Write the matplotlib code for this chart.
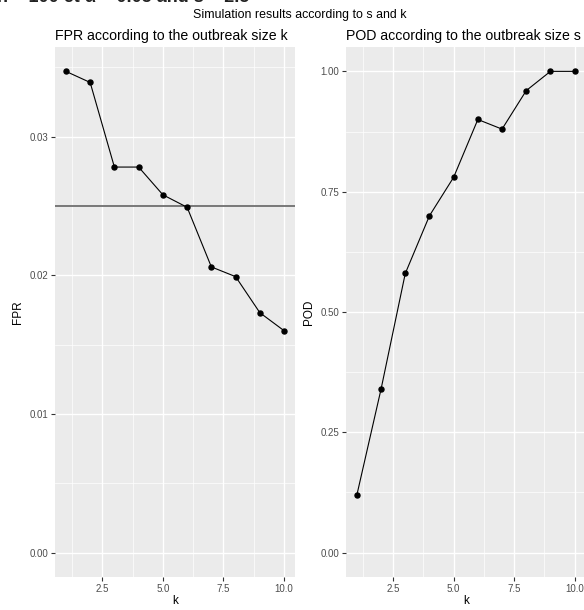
import matplotlib
matplotlib.use("Agg")
import matplotlib.pyplot as plt
from matplotlib.ticker import FixedLocator

k = [1, 2, 3, 4, 5, 6, 7, 8, 9, 10]
fpr = [0.0347, 0.0339, 0.0278, 0.0278, 0.0258, 0.0249, 0.0206, 0.0199, 0.0173, 0.0160]
pod = [0.12, 0.34, 0.58, 0.70, 0.78, 0.90, 0.88, 0.96, 1.00, 1.00]
alpha = 0.025

x_major = [2.5, 5.0, 7.5, 10.0]
x_minor = [1.25, 3.75, 6.25, 8.75]
fpr_major = [0.00, 0.01, 0.02, 0.03]
fpr_minor = [0.005, 0.015, 0.025, 0.035]
pod_major = [0.00, 0.25, 0.50, 0.75, 1.00]
pod_minor = [0.125, 0.375, 0.625, 0.875]

plt.rcParams['font.family'] = ['Liberation Sans', 'DejaVu Sans']

W, H = 584, 610
fig = plt.figure(figsize=(W / 100, H / 100), dpi=100)


def px_axes(x0, x1, y0, y1):
    return fig.add_axes([x0 / W, 1 - y1 / H, (x1 - x0) / W, (y1 - y0) / H])


def style(ax, xmaj, xmin, ymaj, ymin, ylabels):
    ax.set_facecolor('#EBEBEB')
    for s in ax.spines.values():
        s.set_visible(False)
    ax.xaxis.set_major_locator(FixedLocator(xmaj))
    ax.xaxis.set_minor_locator(FixedLocator(xmin))
    ax.yaxis.set_major_locator(FixedLocator(ymaj))
    ax.yaxis.set_minor_locator(FixedLocator(ymin))
    ax.set_xticklabels([f"{v:.1f}" for v in xmaj])
    ax.set_yticklabels(ylabels)
    ax.grid(which='major', color='white', lw=1.0)
    ax.grid(which='minor', color='white', lw=0.5)
    ax.set_axisbelow(True)
    ax.tick_params(which='major', length=3, width=0.8, color='#333333',
                   labelsize=7, labelcolor='#4D4D4D', pad=2)
    ax.tick_params(which='minor', length=0)


# Left panel
ax1 = px_axes(55, 295, 47.3, 576.7)
ax1.axhline(alpha, color='#6E6E6E', lw=1.3, zorder=2)
ax1.plot(k, fpr, color='black', lw=0.8, marker='o', ms=3.6, zorder=3)
ax1.set_xlim(0.55, 10.45)
rng = max(fpr) - 0
ax1.set_ylim(0 - 0.05 * rng, max(fpr) + 0.05 * rng)
style(ax1, x_major, x_minor, fpr_major, fpr_minor, ["0.00", "0.01", "0.02", "0.03"])
ax1.set_xlabel('k', fontsize=8.5, labelpad=1)
ax1.set_ylabel('FPR', fontsize=8.5, labelpad=4)

# Right panel
ax2 = px_axes(346, 585.5, 47.3, 576.7)
ax2.plot(k, pod, color='black', lw=0.8, marker='o', ms=3.6, zorder=3)
ax2.set_xlim(0.55, 10.45)
ax2.set_ylim(-0.05, 1.05)
style(ax2, x_major, x_minor, pod_major, pod_minor, ["0.00", "0.25", "0.50", "0.75", "1.00"])
ax2.set_xlabel('k', fontsize=8.5, labelpad=1)
ax2.set_ylabel('POD', fontsize=8.5, labelpad=4)

# Titles
fig.text(55 / W, 1 - 40 / H, 'FPR according to the outbreak size k', fontsize=10.2,
         ha='left', va='baseline')
fig.text(346 / W, 1 - 40 / H, 'POD according to the outbreak size s', fontsize=10.2,
         ha='left', va='baseline')
fig.text(300 / W, 1 - 18 / H, 'Simulation results according to s and k', fontsize=8.9,
         ha='center', va='baseline')
fig.text(-3 / W, 1 - 2 / H, 'n = 100 et \u03b1 = 0.05 and s = 2.5', fontsize=13,
         fontweight='bold', ha='left', va='baseline', color='#222222')

fig.savefig('out.png', dpi=100)
